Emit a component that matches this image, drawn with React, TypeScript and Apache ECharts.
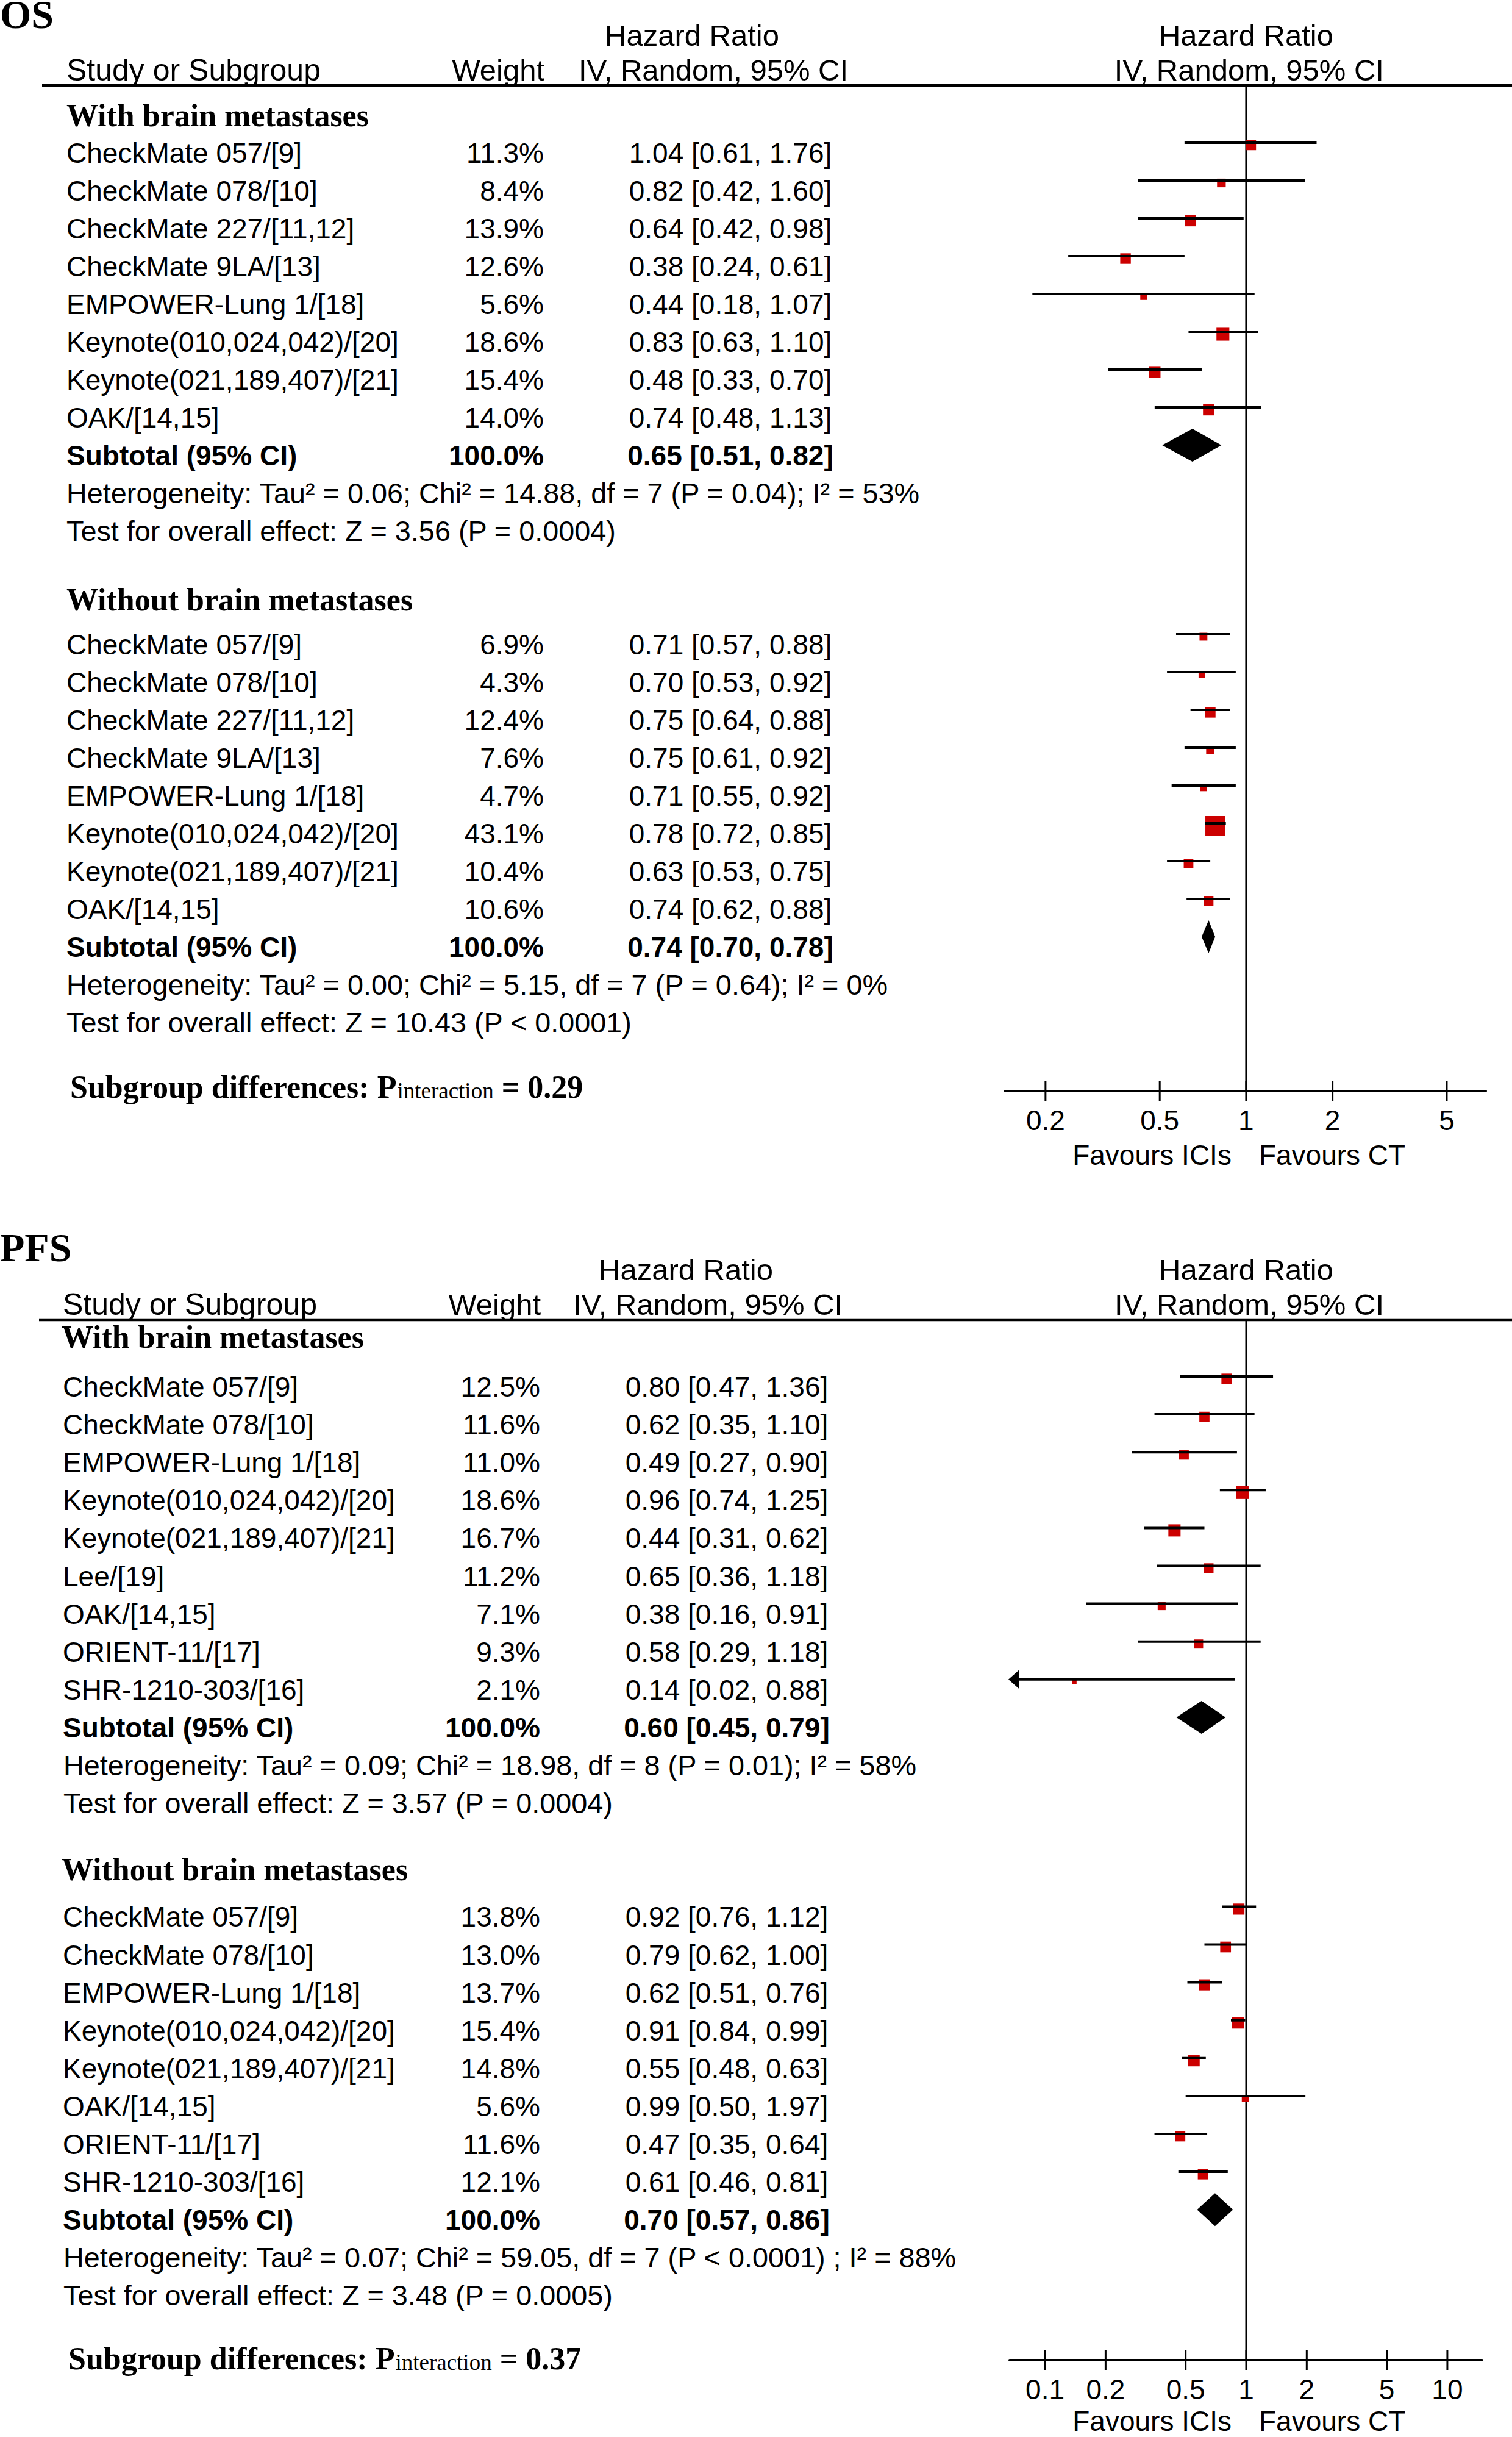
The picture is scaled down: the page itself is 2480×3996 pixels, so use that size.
import React, { useEffect, useRef } from "react";
import * as echarts from "echarts";

const SANS = '"Liberation Sans", Arial, Helvetica, sans-serif';
const SERIF = '"Liberation Serif", "Times New Roman", Times, serif';

// ---------------- OS data ----------------
const osWithNames = [
  "CheckMate 057/[9]",
  "CheckMate 078/[10]",
  "CheckMate 227/[11,12]",
  "CheckMate 9LA/[13]",
  "EMPOWER-Lung 1/[18]",
  "Keynote(010,024,042)/[20]",
  "Keynote(021,189,407)/[21]",
  "OAK/[14,15]",
];
const osWithWeight = [11.3, 8.4, 13.9, 12.6, 5.6, 18.6, 15.4, 14.0];
const osWithHR = [1.04, 0.82, 0.64, 0.38, 0.44, 0.83, 0.48, 0.74];
const osWithLo = [0.61, 0.42, 0.42, 0.24, 0.18, 0.63, 0.33, 0.48];
const osWithHi = [1.76, 1.6, 0.98, 0.61, 1.07, 1.1, 0.7, 1.13];
const osWithTotal = [0.65, 0.51, 0.82];
const osWithHet = "Heterogeneity: Tau² = 0.06; Chi² = 14.88, df = 7 (P = 0.04); I² = 53%";
const osWithTest = "Test for overall effect: Z = 3.56 (P = 0.0004)";

const osWithoutNames = [
  "CheckMate 057/[9]",
  "CheckMate 078/[10]",
  "CheckMate 227/[11,12]",
  "CheckMate 9LA/[13]",
  "EMPOWER-Lung 1/[18]",
  "Keynote(010,024,042)/[20]",
  "Keynote(021,189,407)/[21]",
  "OAK/[14,15]",
];
const osWithoutWeight = [6.9, 4.3, 12.4, 7.6, 4.7, 43.1, 10.4, 10.6];
const osWithoutHR = [0.71, 0.7, 0.75, 0.75, 0.71, 0.78, 0.63, 0.74];
const osWithoutLo = [0.57, 0.53, 0.64, 0.61, 0.55, 0.72, 0.53, 0.62];
const osWithoutHi = [0.88, 0.92, 0.88, 0.92, 0.92, 0.85, 0.75, 0.88];
const osWithoutTotal = [0.74, 0.7, 0.78];
const osWithoutHet = "Heterogeneity: Tau² = 0.00; Chi² = 5.15, df = 7 (P = 0.64); I² = 0%";
const osWithoutTest = "Test for overall effect: Z = 10.43 (P < 0.0001)";
const osInteractionP = "0.29";
const osTicks = [0.2, 0.5, 1, 2, 5];

// ---------------- PFS data ----------------
const pfsWithNames = [
  "CheckMate 057/[9]",
  "CheckMate 078/[10]",
  "EMPOWER-Lung 1/[18]",
  "Keynote(010,024,042)/[20]",
  "Keynote(021,189,407)/[21]",
  "Lee/[19]",
  "OAK/[14,15]",
  "ORIENT-11/[17]",
  "SHR-1210-303/[16]",
];
const pfsWithWeight = [12.5, 11.6, 11.0, 18.6, 16.7, 11.2, 7.1, 9.3, 2.1];
const pfsWithHR = [0.8, 0.62, 0.49, 0.96, 0.44, 0.65, 0.38, 0.58, 0.14];
const pfsWithLo = [0.47, 0.35, 0.27, 0.74, 0.31, 0.36, 0.16, 0.29, 0.02];
const pfsWithHi = [1.36, 1.1, 0.9, 1.25, 0.62, 1.18, 0.91, 1.18, 0.88];
const pfsWithTotal = [0.6, 0.45, 0.79];
const pfsWithHet = "Heterogeneity: Tau² = 0.09; Chi² = 18.98, df = 8 (P = 0.01); I² = 58%";
const pfsWithTest = "Test for overall effect: Z = 3.57 (P = 0.0004)";

const pfsWithoutNames = [
  "CheckMate 057/[9]",
  "CheckMate 078/[10]",
  "EMPOWER-Lung 1/[18]",
  "Keynote(010,024,042)/[20]",
  "Keynote(021,189,407)/[21]",
  "OAK/[14,15]",
  "ORIENT-11/[17]",
  "SHR-1210-303/[16]",
];
const pfsWithoutWeight = [13.8, 13.0, 13.7, 15.4, 14.8, 5.6, 11.6, 12.1];
const pfsWithoutHR = [0.92, 0.79, 0.62, 0.91, 0.55, 0.99, 0.47, 0.61];
const pfsWithoutLo = [0.76, 0.62, 0.51, 0.84, 0.48, 0.5, 0.35, 0.46];
const pfsWithoutHi = [1.12, 1.0, 0.76, 0.99, 0.63, 1.97, 0.64, 0.81];
const pfsWithoutTotal = [0.7, 0.57, 0.86];
const pfsWithoutHet = "Heterogeneity: Tau² = 0.07; Chi² = 59.05, df = 7 (P < 0.0001) ; I² = 88%";
const pfsWithoutTest = "Test for overall effect: Z = 3.48 (P = 0.0005)";
const pfsInteractionP = "0.37";
const pfsTicks = [0.1, 0.2, 0.5, 1, 2, 5, 10];

const groupTitles = ["With brain metastases", "Without brain metastases"];

// ---------------- layout (pixels) ----------------
const LAYOUTS = [
  {
    title: "OS",
    gridLeft: 1648, gridWidth: 789, top: 140, axisY: 1789,
    rowBase: 267, rowStep: 62, xMin: -0.841, xMax: 0.835,
    nameX: 109, groupX: 109, noteX: 109, diffX: 115,
    weightX: 892, ciX: 1198, lineStartX: 69,
    hrHeaderX: 1135, ivHeaderX: 1170, favoursDy: 121, titleDy: -94,
    withHeaderRow: -0.97, withoutHeaderRow: 11.84, withoutStart: 13, diffRow: 24.73,
  },
  {
    title: "PFS",
    gridLeft: 1656, gridWidth: 775, top: 2164, axisY: 3870,
    rowBase: 2290, rowStep: 62.1, xMin: -1.176, xMax: 1.173,
    nameX: 103, groupX: 101, noteX: 104, diffX: 112,
    weightX: 886, ciX: 1192, lineStartX: 64,
    hrHeaderX: 1125, ivHeaderX: 1161, favoursDy: 116, titleDy: -96,
    withHeaderRow: -1.29, withoutHeaderRow: 12.77, withoutStart: 14, diffRow: 25.68,
  },
];

const PANEL_GROUPS = [
  {
    ticks: osTicks,
    p: osInteractionP,
    groups: [
      { names: osWithNames, w: osWithWeight, hr: osWithHR, lo: osWithLo, hi: osWithHi, total: osWithTotal, het: osWithHet, test: osWithTest },
      { names: osWithoutNames, w: osWithoutWeight, hr: osWithoutHR, lo: osWithoutLo, hi: osWithoutHi, total: osWithoutTotal, het: osWithoutHet, test: osWithoutTest },
    ],
  },
  {
    ticks: pfsTicks,
    p: pfsInteractionP,
    groups: [
      { names: pfsWithNames, w: pfsWithWeight, hr: pfsWithHR, lo: pfsWithLo, hi: pfsWithHi, total: pfsWithTotal, het: pfsWithHet, test: pfsWithTest },
      { names: pfsWithoutNames, w: pfsWithoutWeight, hr: pfsWithoutHR, lo: pfsWithoutLo, hi: pfsWithoutHi, total: pfsWithoutTotal, het: pfsWithoutHet, test: pfsWithoutTest },
    ],
  },
];

type Row = {
  kind: "group" | "study" | "subtotal" | "note" | "diff";
  y: number;
  text: string;
  w?: number;
  hr?: number;
  lo?: number;
  hi?: number;
};

function buildRows(L: any, P: any): Row[] {
  const rows: Row[] = [];
  P.groups.forEach((g: any, gi: number) => {
    const start = gi === 0 ? 0 : L.withoutStart;
    rows.push({ kind: "group", y: gi === 0 ? L.withHeaderRow : L.withoutHeaderRow, text: groupTitles[gi] });
    g.names.forEach((n: string, i: number) =>
      rows.push({ kind: "study", y: start + i, text: n, w: g.w[i], hr: g.hr[i], lo: g.lo[i], hi: g.hi[i] })
    );
    const n = g.names.length;
    rows.push({ kind: "subtotal", y: start + n, text: "Subtotal (95% CI)", w: 100, hr: g.total[0], lo: g.total[1], hi: g.total[2] });
    rows.push({ kind: "note", y: start + n + 1, text: g.het });
    rows.push({ kind: "note", y: start + n + 2, text: g.test });
  });
  rows.push({ kind: "diff", y: L.diffRow, text: P.p });
  return rows;
}

let measureCtx: CanvasRenderingContext2D | null = null;
function measure(text: string, font: string) {
  if (!measureCtx) measureCtx = document.createElement("canvas").getContext("2d");
  if (!measureCtx) return text.length * 20;
  measureCtx.font = font;
  return measureCtx.measureText(text).width;
}

function txt(text: string, x: number, baseline: number, fs: number, o: any = {}) {
  const serif = !!o.serif;
  return {
    type: "text",
    style: {
      text,
      x,
      y: baseline - (serif ? 0.3375 : 0.3467) * fs,
      fill: "#000",
      fontSize: fs,
      fontFamily: serif ? SERIF : SANS,
      fontWeight: o.bold ? "bold" : "normal",
      align: o.align || "left",
      verticalAlign: "middle",
    },
  };
}

const RED = "#cc0000";

function buildOption() {
  const grid: any[] = [];
  const xAxis: any[] = [];
  const yAxis: any[] = [];
  const series: any[] = [];

  LAYOUTS.forEach((L, pi) => {
    const P = PANEL_GROUPS[pi];
    const yMin = (L.top - L.rowBase) / L.rowStep;
    const yMax = (L.axisY - L.rowBase) / L.rowStep;
    grid.push({ left: L.gridLeft, top: L.top, width: L.gridWidth, height: L.axisY - L.top, containLabel: false });
    xAxis.push({
      gridIndex: pi, type: "value", min: L.xMin, max: L.xMax, position: "bottom",
      axisLine: { show: true, onZero: false, lineStyle: { color: "#000", width: 4 } },
      axisTick: { show: false }, axisLabel: { show: false }, splitLine: { show: false },
    });
    yAxis.push({ gridIndex: pi, type: "value", inverse: true, min: yMin, max: yMax, show: false });

    // decorations: header, reference line, ticks, labels
    series.push({
      type: "custom", coordinateSystem: "cartesian2d", xAxisIndex: pi, yAxisIndex: pi,
      clip: false, silent: true, z: 1,
      data: [[0, yMin]],
      renderItem: (params: any, api: any) => {
        const top = api.coord([0, yMin])[1];
        const axisY = api.coord([0, yMax])[1];
        const x1 = api.coord([0, yMin])[0];
        const ch: any[] = [];
        ch.push({ type: "line", shape: { x1: L.lineStartX, y1: top, x2: 2480, y2: top }, style: { stroke: "#000", lineWidth: 4.5 } });
        ch.push({ type: "line", shape: { x1, y1: top, x2: x1, y2: axisY }, style: { stroke: "#000", lineWidth: 3 } });
        P.ticks.forEach((t: number) => {
          const x = api.coord([Math.log10(t), yMax])[0];
          ch.push({ type: "line", shape: { x1: x, y1: axisY - 16, x2: x, y2: axisY + 16 }, style: { stroke: "#000", lineWidth: 3 } });
          ch.push(txt(String(t), x, axisY + 64, 46, { align: "center" }));
        });
        ch.push(txt("Favours ICIs", x1 - 24, axisY + L.favoursDy, 46, { align: "right" }));
        ch.push(txt("Favours CT", x1 + 21, axisY + L.favoursDy, 46, { align: "left" }));
        ch.push(txt("Hazard Ratio", L.hrHeaderX, top - 65, 49, { align: "center" }));
        ch.push(txt("Hazard Ratio", x1, top - 65, 49, { align: "center" }));
        ch.push(txt("Study or Subgroup", L.nameX, top - 8, 50));
        ch.push(txt("Weight", L.weightX + 1, top - 8, 49, { align: "right" }));
        ch.push(txt("IV, Random, 95% CI", L.ivHeaderX, top - 8, 49, { align: "center" }));
        ch.push(txt("IV, Random, 95% CI", x1 + 5, top - 8, 49, { align: "center" }));
        ch.push(txt(L.title, 0, top + L.titleDy, 66, { serif: true, bold: true }));
        return { type: "group", children: ch };
      },
    });

    const rows = buildRows(L, P);
    series.push({
      type: "custom", coordinateSystem: "cartesian2d", xAxisIndex: pi, yAxisIndex: pi,
      clip: false, silent: true, z: 2,
      data: rows.map((r) => [0, r.y]),
      renderItem: (params: any, api: any) => {
        const r = rows[params.dataIndex];
        const base = api.coord([0, r.y])[1];
        const ch: any[] = [];
        const px = (v: number) => api.coord([Math.log10(v), r.y])[0];
        if (r.kind === "group") {
          ch.push(txt(r.text, L.groupX, base, 52, { serif: true, bold: true }));
        } else if (r.kind === "study" || r.kind === "subtotal") {
          const bold = r.kind === "subtotal";
          ch.push(txt(r.text, L.nameX, base, 46, { bold }));
          ch.push(txt(r.w!.toFixed(1) + "%", L.weightX, base, 46, { bold, align: "right" }));
          ch.push(
            txt(`${r.hr!.toFixed(2)} [${r.lo!.toFixed(2)}, ${r.hi!.toFixed(2)}]`, L.ciX, base, 46, { bold, align: "center" })
          );
          const my = base - 33;
          const xc = px(r.hr!);
          if (r.kind === "study") {
            const leftLimit = api.coord([L.xMin, r.y])[0];
            const rightLimit = api.coord([L.xMax, r.y])[0];
            const xl = px(r.lo!);
            const xr = px(r.hi!);
            const s = 4.9 * Math.sqrt(r.w!);
            ch.push({ type: "rect", shape: { x: xc - s / 2, y: my + 4 - s / 2, width: s, height: s }, style: { fill: RED } });
            const a = Math.max(xl, leftLimit + 14);
            const b = Math.min(xr, rightLimit - 14);
            ch.push({ type: "line", shape: { x1: xl < leftLimit ? a : xl, y1: my, x2: xr > rightLimit ? b : xr, y2: my }, style: { stroke: "#000", lineWidth: 4 } });
            if (xl < leftLimit) {
              const tip = leftLimit - 2;
              ch.push({ type: "polygon", shape: { points: [[tip, my], [tip + 17, my - 15], [tip + 17, my + 15]] }, style: { fill: "#000" } });
            }
            if (xr > rightLimit) {
              const tip = rightLimit + 2;
              ch.push({ type: "polygon", shape: { points: [[tip, my], [tip - 17, my - 15], [tip - 17, my + 15]] }, style: { fill: "#000" } });
            }
          } else {
            const xl = px(r.lo!);
            const xr = px(r.hi!);
            ch.push({
              type: "polygon",
              shape: { points: [[xl, my], [xc, my - 27], [xr, my], [xc, my + 27]] },
              style: { fill: "#000" },
            });
          }
        } else if (r.kind === "note") {
          ch.push(txt(r.text, L.noteX, base, 46.8));
        } else if (r.kind === "diff") {
          const p1 = "Subgroup differences: P";
          const p2 = "interaction";
          const p3 = " = " + r.text;
          const w1 = measure(p1, `bold 52px ${SERIF}`);
          const w2 = measure(p2, `37px ${SERIF}`);
          ch.push(txt(p1, L.diffX, base, 52, { serif: true, bold: true }));
          ch.push(txt(p2, L.diffX + w1 + 1, base + 1, 37, { serif: true }));
          ch.push(txt(p3, L.diffX + w1 + w2 + 1, base, 52, { serif: true, bold: true }));
        }
        return { type: "group", children: ch };
      },
    });
  });

  return { animation: false, backgroundColor: "#ffffff", grid, xAxis, yAxis, series };
}

export default function App() {
  const ref = useRef<HTMLDivElement>(null);
  useEffect(() => {
    document.body.style.margin = "0";
    if (!ref.current) return;
    const chart = echarts.init(ref.current, undefined, { renderer: "svg" });
    chart.setOption(buildOption() as any);
    return () => chart.dispose();
  }, []);
  return (
    <div
      ref={ref}
      style={{ position: "absolute", left: 0, top: 0, width: 2480, height: 3996, background: "#fff" }}
    />
  );
}
